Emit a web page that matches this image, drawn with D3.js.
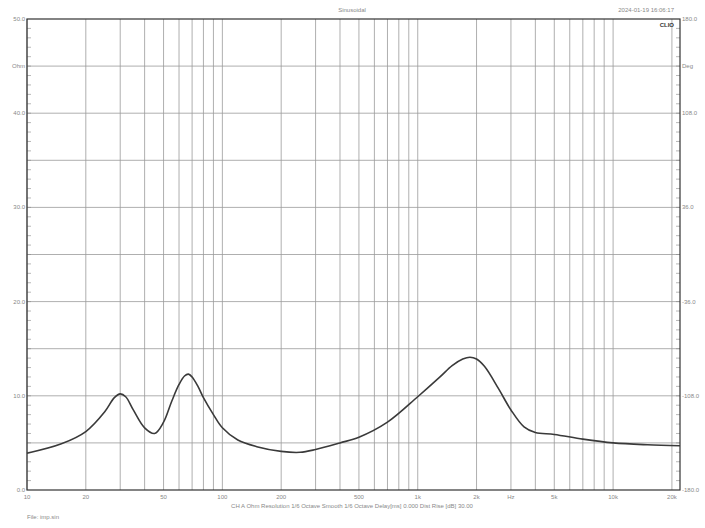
<!DOCTYPE html>
<html><head><meta charset="utf-8">
<script src="https://cdn.jsdelivr.net/npm/d3@7"></script>
<style>body{margin:0;background:#fff;font-family:"Liberation Sans",Arial,sans-serif;}</style>
</head><body><div id="chart"></div>
<script>
// impedance curve
var freq = [10, 15, 20, 25, 28, 30, 32, 35, 40, 45, 50, 55, 60, 64, 67, 70, 75, 80, 90, 100, 120, 150, 200, 250, 300, 400, 500, 700, 1000, 1300, 1500, 1700, 1850, 2000, 2200, 2600, 3000, 3500, 4000, 5000, 7000, 10000, 15000, 22000];
var ohm  = [3.9, 4.9, 6.2, 8.3, 9.8, 10.2, 9.9, 8.5, 6.6, 6.0, 7.2, 9.4, 11.2, 12.1, 12.3, 12.0, 11.0, 9.8, 8.0, 6.6, 5.3, 4.6, 4.1, 4.0, 4.3, 5.0, 5.6, 7.2, 9.9, 12.0, 13.2, 13.9, 14.1, 13.9, 13.1, 10.7, 8.5, 6.7, 6.1, 5.9, 5.4, 5.0, 4.8, 4.7];
var xLabels = [[10,"10"],[20,"20"],[50,"50"],[100,"100"],[200,"200"],[500,"500"],[1000,"1k"],[2000,"2k"],[3000,"Hz"],[5000,"5k"],[10000,"10k"],[20000,"20k"]];
var leftLabels = [0, 10, 20, 30, 40, 50];
var rightLabels = ["-180.0", "-108.0", "-36.0", "36.0", "108.0", "180.0"];

var W = 705, H = 528;
var margin = { left:27, right:25, top:19, bottom:38 };
var width = W - margin.left - margin.right, height = H - margin.top - margin.bottom;

var svg = d3.select("#chart").append("svg").attr("width", W).attr("height", H);
var g = svg.append("g").attr("transform", "translate(" + margin.left + "," + margin.top + ")");

var x = d3.scaleLog().domain([10, 22000]).range([0, width]);
var y = d3.scaleLinear().domain([0, 50]).range([height, 0]);

// vertical grid
var vlines = [];
[10, 100, 1000, 10000].forEach(function(dec){
    for (var k = 1; k < 10; k++) { if (dec * k <= 20000) vlines.push(dec * k); }
});
g.selectAll(".vl").data(vlines).enter().append("line")
    .attr("x1", d => x(d)).attr("x2", d => x(d))
    .attr("y1", 0).attr("y2", height)
    .attr("stroke", "#9a9a9a").attr("stroke-width", 0.8);

// horizontal grid every 5
g.selectAll(".hl").data(d3.range(5, 50, 5)).enter().append("line")
    .attr("x1", 0).attr("x2", width)
    .attr("y1", d => y(d)).attr("y2", d => y(d))
    .attr("stroke", "#9a9a9a").attr("stroke-width", 0.8);

// small ticks on side axes
var ticks = d3.range(1, 50);
g.selectAll(".lt").data(ticks).enter().append("line")
    .attr("x1", 0).attr("x2", 4).attr("y1", d => y(d)).attr("y2", d => y(d))
    .attr("stroke", "#888").attr("stroke-width", 0.6);
g.selectAll(".rt").data(ticks).enter().append("line")
    .attr("x1", width - 4).attr("x2", width).attr("y1", d => y(d)).attr("y2", d => y(d))
    .attr("stroke", "#888").attr("stroke-width", 0.6);

g.append("rect").attr("width", width).attr("height", height)
    .attr("fill", "none").attr("stroke", "#333").attr("stroke-width", 1.2);

var line = d3.line().x(d => x(d[0])).y(d => y(d[1])).curve(d3.curveCatmullRom.alpha(0.5));
g.append("path").datum(freq.map((f, i) => [f, ohm[i]]))
    .attr("d", line).attr("fill", "none").attr("stroke", "#3a3a3a").attr("stroke-width", 1.6);

var txt = { "font-size": "6px", fill: "#888" };
function t(sel, attrs) { Object.keys(attrs).forEach(k => sel.attr(k, attrs[k])); return sel; }

g.selectAll(".xl").data(xLabels).enter().append("text")
    .attr("x", d => x(d[0])).attr("y", height + 9).attr("text-anchor", "middle")
    .attr("font-size", "6px").attr("fill", "#888").text(d => d[1]);
g.selectAll(".yl").data(leftLabels).enter().append("text")
    .attr("x", -2).attr("y", d => y(d) + 2).attr("text-anchor", "end")
    .attr("font-size", "6px").attr("fill", "#888").text(d => d.toFixed(1));
g.selectAll(".yr").data(rightLabels).enter().append("text")
    .attr("x", width + 2).attr("y", (d, i) => y(i * 10) + 2)
    .attr("font-size", "6px").attr("fill", "#888").text(d => d);
t(g.append("text"), txt).attr("x", -2).attr("y", y(45) + 2).attr("text-anchor", "end").text("Ohm");
t(g.append("text"), txt).attr("x", width + 2).attr("y", y(45) + 2).text("Deg");

t(svg.append("text"), txt).attr("x", 352).attr("y", 12).attr("text-anchor", "middle").text("Sinusoidal");
t(svg.append("text"), txt).attr("x", 674).attr("y", 12).attr("text-anchor", "end").text("2024-01-19 16:06:17");
svg.append("text").attr("x", 674).attr("y", 27).attr("text-anchor", "end")
    .attr("font-size", "6px").attr("font-weight", "bold").attr("fill", "#333").text("CLIO");
t(svg.append("text"), txt).attr("x", 352).attr("y", 508).attr("text-anchor", "middle")
    .text("CH A   Ohm   Resolution 1/6 Octave   Smooth 1/6 Octave   Delay[ms] 0.000   Dist Rise [dB] 30.00");
t(svg.append("text"), txt).attr("x", 27).attr("y", 519).text("File: imp.sin");
</script></body></html>
